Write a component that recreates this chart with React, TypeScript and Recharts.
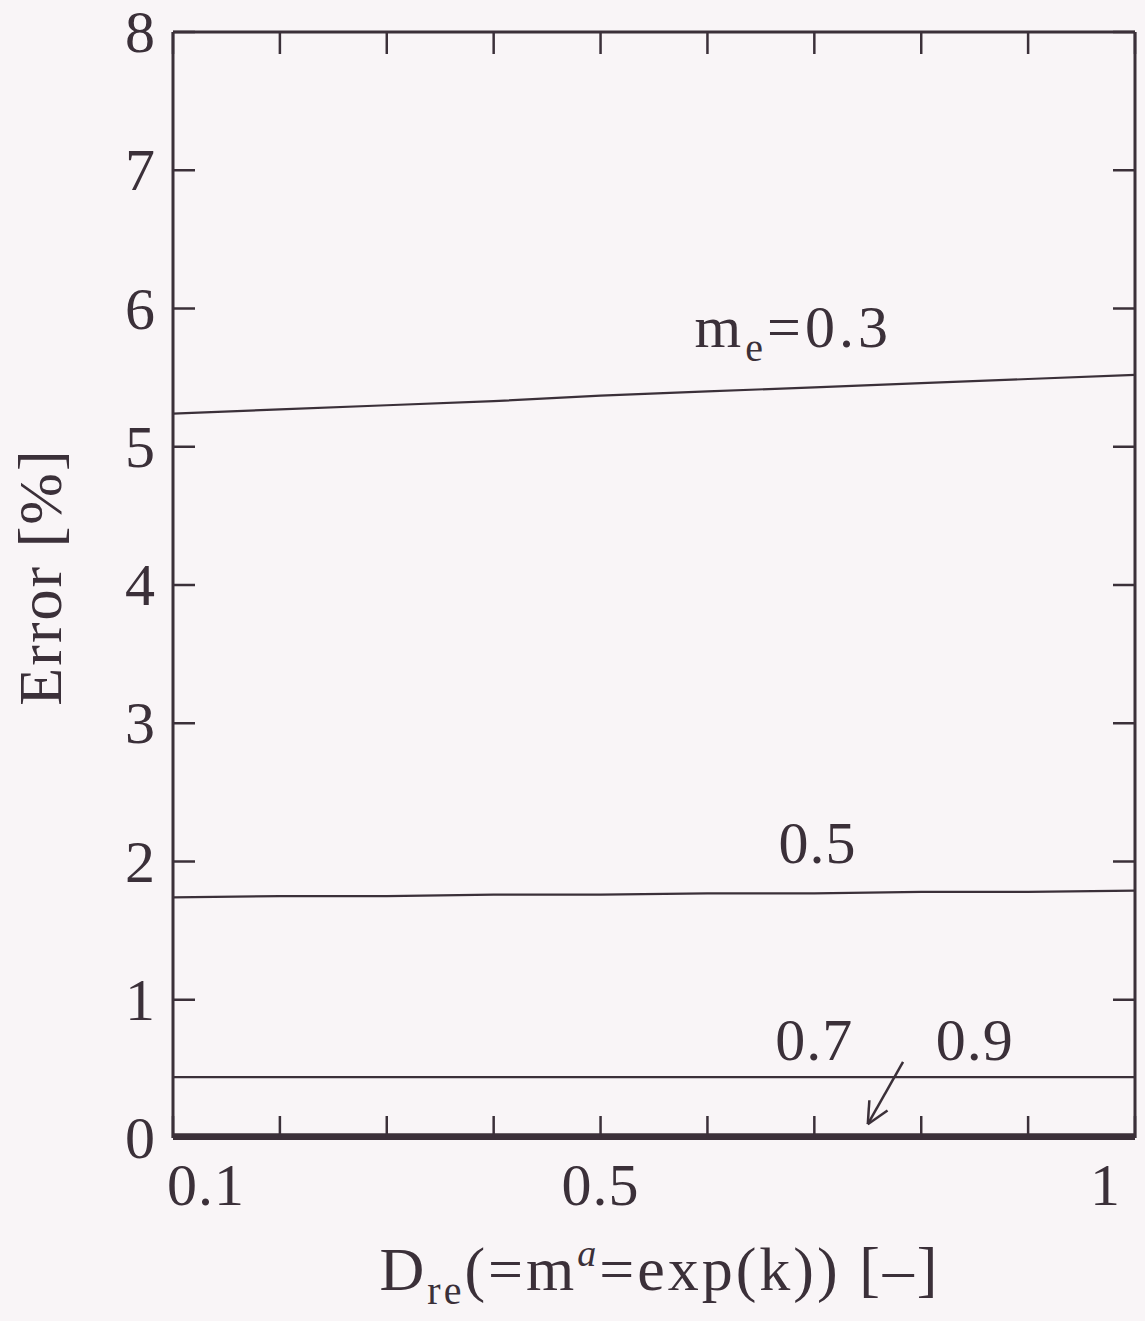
import { LineChart, Line, XAxis, YAxis, ReferenceDot, ReferenceLine } from 'recharts';

// D_re values along the x axis
const dre = [0.1, 0.2, 0.3, 0.4, 0.5, 0.6, 0.7, 0.8, 0.9, 1.0];

// Error [%] for each m_e
const errMe03 = [5.24, 5.27, 5.3, 5.33, 5.37, 5.4, 5.43, 5.46, 5.49, 5.52];
const errMe05 = [1.74, 1.75, 1.75, 1.76, 1.76, 1.77, 1.77, 1.78, 1.78, 1.79];
const errMe07 = [0.44, 0.44, 0.44, 0.44, 0.44, 0.44, 0.44, 0.44, 0.44, 0.44];
const errMe09 = [0.02, 0.02, 0.02, 0.02, 0.02, 0.02, 0.02, 0.02, 0.02, 0.02];

const xTicks = [0.1, 0.2, 0.3, 0.4, 0.5, 0.6, 0.7, 0.8, 0.9, 1];
const xLabelled = [0.1, 0.5, 1];
const yTicks = [0, 1, 2, 3, 4, 5, 6, 7, 8];

const ink = '#3b3039';
const font = '"Liberation Serif", "DejaVu Serif", serif';

const toSeries = (vals: number[]) => dre.map((x, i) => ({ x, err: vals[i] }));

const XTick = (props: any) => {
  const { x, y, payload } = props;
  const v = payload.value;
  if (!xLabelled.some((t) => Math.abs(t - v) < 1e-6)) return <g />;
  let anchor: 'start' | 'middle' | 'end' = 'middle';
  let dx = 0;
  if (Math.abs(v - 0.1) < 1e-6) { anchor = 'start'; dx = -6; }
  if (Math.abs(v - 1) < 1e-6) { anchor = 'end'; dx = -14; }
  return (
    <text x={x + dx} y={y + 67} textAnchor={anchor} fill={ink} fontFamily={font} fontSize={60} letterSpacing={1}>
      {v === 1 ? '1' : String(v)}
    </text>
  );
};

const YTick = (props: any) => {
  const { x, y, payload } = props;
  return (
    <text x={x - 18} y={y + 20} textAnchor="end" fill={ink} fontFamily={font} fontSize={60}>
      {payload.value}
    </text>
  );
};

const NoTick = () => <g />;

const YTitle = (props: any) => {
  const vb = props.viewBox;
  const cx = vb.x - 73;
  const cy = vb.y + vb.height / 2 - 8;
  return (
    <text x={cx} y={cy} transform={`rotate(-90 ${cx} ${cy})`} textAnchor="middle" dominantBaseline="central"
      fill={ink} fontFamily={font} fontSize={62} letterSpacing={2}>
      Error [%]
    </text>
  );
};

const XTitle = (props: any) => {
  const vb = props.viewBox;
  return (
    <text x={vb.x + vb.width / 2 + 6} y={vb.y + 152} textAnchor="middle" fill={ink} fontFamily={font} fontSize={62}
      letterSpacing={3}>
      D<tspan fontSize={40} dy={14}>re</tspan>
      <tspan dy={-14}>(=m</tspan>
      <tspan fontSize={38} fontStyle="italic" dy={-24}>a</tspan>
      <tspan dy={24}>=exp(k)) [–]</tspan>
    </text>
  );
};

const meLabel = (text: string, sub?: boolean, anchor: 'start' | 'middle' = 'middle') => (props: any) => {
  const vb = props.viewBox;
  const x = vb.x + vb.width / 2;
  const y = vb.y + vb.height / 2;
  return (
    <text x={x} y={y} textAnchor={anchor} fill={ink} fontFamily={font} fontSize={60} letterSpacing={sub ? 4 : 1}>
      {sub ? (
        <>
          m<tspan fontSize={40} dy={14}>e</tspan>
          <tspan dy={-14}>={text}</tspan>
        </>
      ) : text}
    </text>
  );
};

const Arrow = (props: any) => {
  const { x1, y1, x2, y2 } = props;
  const ang = Math.atan2(y1 - y2, x1 - x2);
  const len = 24;
  const spread = 0.45;
  return (
    <g stroke={ink} strokeWidth={2.5} fill="none">
      <line x1={x1} y1={y1} x2={x2} y2={y2} />
      <line x1={x2} y1={y2} x2={x2 + len * Math.cos(ang + spread)} y2={y2 + len * Math.sin(ang + spread)} />
      <line x1={x2} y1={y2} x2={x2 + len * Math.cos(ang - spread)} y2={y2 + len * Math.sin(ang - spread)} />
    </g>
  );
};

const App = () => {
  return (
    <div style={{ position: 'absolute', left: 0, top: 0, width: 1145, height: 1321, background: '#f9f5f7' }}>
      <LineChart width={1145} height={1321} margin={{ top: 31, right: 9, left: 113, bottom: 123 }}>
        <XAxis
          xAxisId={0}
          type="number"
          dataKey="x"
          domain={[0.1, 1]}
          ticks={xTicks}
          interval={0}
          allowDataOverflow
          height={60}
          tickSize={-22}
          tickMargin={22}
          tick={<XTick />}
          axisLine={{ stroke: ink, strokeWidth: 4 }}
          tickLine={{ stroke: ink, strokeWidth: 2.5 }}
          label={{ content: <XTitle /> }}
        />
        <XAxis
          xAxisId="top"
          orientation="top"
          type="number"
          dataKey="x"
          domain={[0.1, 1]}
          ticks={xTicks}
          interval={0}
          allowDataOverflow
          height={1}
          tickSize={-22}
          tick={<NoTick />}
          axisLine={{ stroke: ink, strokeWidth: 3 }}
          tickLine={{ stroke: ink, strokeWidth: 2.5 }}
        />
        <YAxis
          yAxisId={0}
          type="number"
          domain={[0, 8]}
          ticks={yTicks}
          interval={0}
          allowDataOverflow
          width={60}
          tickSize={-22}
          tickMargin={22}
          tick={<YTick />}
          axisLine={{ stroke: ink, strokeWidth: 3 }}
          tickLine={{ stroke: ink, strokeWidth: 2.5 }}
          label={{ content: <YTitle /> }}
        />
        <YAxis
          yAxisId="right"
          orientation="right"
          type="number"
          domain={[0, 8]}
          ticks={yTicks}
          interval={0}
          allowDataOverflow
          width={1}
          tickSize={-22}
          tick={<NoTick />}
          axisLine={{ stroke: ink, strokeWidth: 3 }}
          tickLine={{ stroke: ink, strokeWidth: 2.5 }}
        />
        <Line data={toSeries(errMe03)} dataKey="err" stroke={ink} strokeWidth={2.2} dot={false} isAnimationActive={false} />
        <Line data={toSeries(errMe05)} dataKey="err" stroke={ink} strokeWidth={2.2} dot={false} isAnimationActive={false} />
        <Line data={toSeries(errMe07)} dataKey="err" stroke={ink} strokeWidth={2.2} dot={false} isAnimationActive={false} />
        <Line data={toSeries(errMe09)} xAxisId="top" yAxisId="right" dataKey="err" stroke={ink} strokeWidth={4} dot={false} isAnimationActive={false} />
        <ReferenceDot x={0.588} y={5.72} r={0} fill="none" stroke="none" label={{ content: meLabel('0.3', true, 'start') }} />
        <ReferenceDot x={0.703} y={1.99} r={0} fill="none" stroke="none" label={{ content: meLabel('0.5') }} />
        <ReferenceDot x={0.7} y={0.565} r={0} fill="none" stroke="none" label={{ content: meLabel('0.7') }} />
        <ReferenceDot x={0.85} y={0.565} r={0} fill="none" stroke="none" label={{ content: meLabel('0.9') }} />
        <ReferenceLine
          segment={[{ x: 0.783, y: 0.55 }, { x: 0.75, y: 0.1 }]}
          shape={<Arrow />}
        />
      </LineChart>
    </div>
  );
};

export default App;
